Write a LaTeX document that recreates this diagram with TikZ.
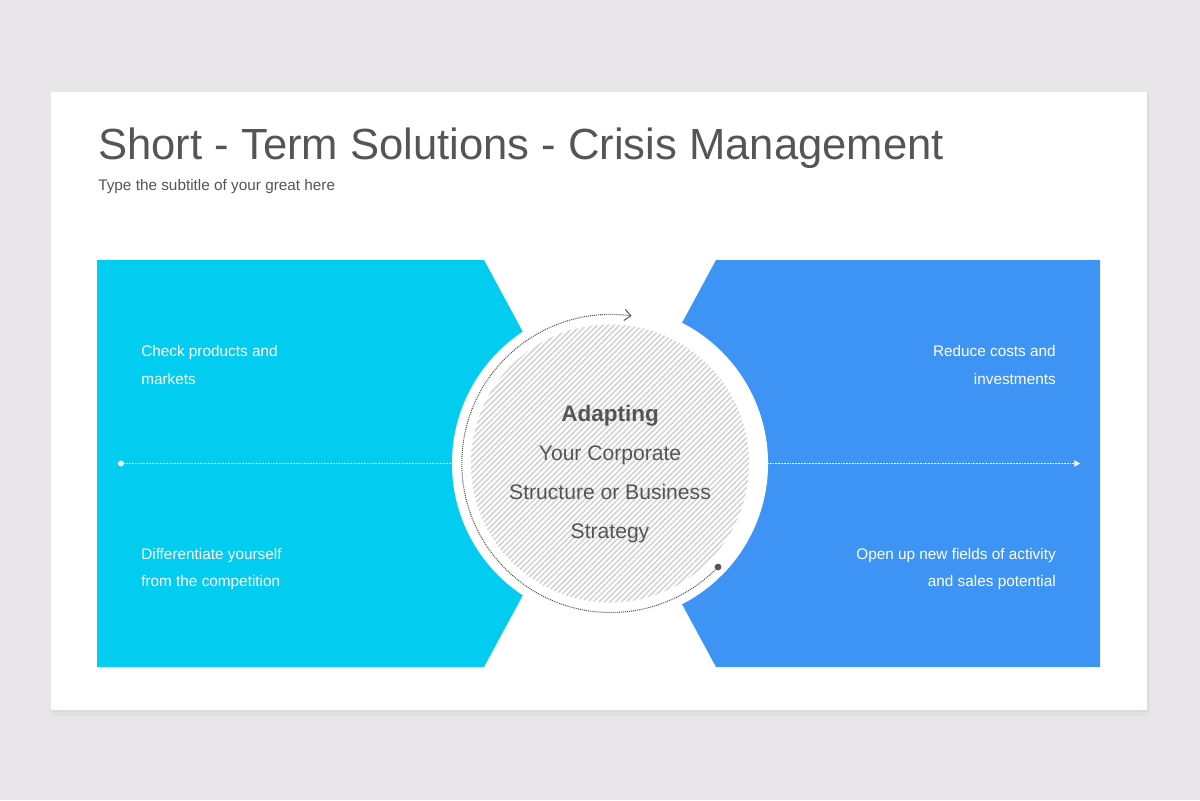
\documentclass[tikz,border=0pt]{standalone}
\usepackage{fontspec}
\setmainfont{Liberation Sans}
\usetikzlibrary{arrows.meta,patterns.meta}
\definecolor{bggray}{HTML}{E8E6E8}
\definecolor{panelcyan}{HTML}{02CCF0}
\definecolor{panelblue}{HTML}{3E94F5}
\definecolor{textgray}{HTML}{555555}
\definecolor{hatchbg}{HTML}{F0F0F0}
\definecolor{hatchline}{HTML}{D2D2D2}

\begin{document}
\begin{tikzpicture}[x=0.025cm,y=-0.025cm,
  paneltext/.style={text=white,font=\fontsize{10.9pt}{19.6pt}\selectfont,inner sep=0pt},
  whitedots/.style={white,dash pattern=on 0.5pt off 0.6pt,line width=0.6pt}]
\useasboundingbox (0,0) rectangle (1200,800);
\fill[bggray] (0,0) rectangle (1200,800);

%Card shadow
\fill[black,opacity=0.025] (52,94) rectangle (1150,716);
\fill[black,opacity=0.025] (51,93) rectangle (1148,712);

%Card
\fill[white] (51,92) rectangle (1147,710);

%Title
\node[anchor=base west,inner sep=0pt,text=textgray,
  font=\fontsize{31pt}{36pt}\selectfont] (title) at (98,160) {Short - Term Solutions - Crisis Management};

%Subtitle
\node[anchor=base west,inner sep=0pt,text=textgray,
  font=\fontsize{10.9pt}{12pt}\selectfont] (subtitle) at (98,191) {Type the subtitle of your great here};

%Left panel
\fill[panelcyan] (97,260) -- (484,260) -- (594,463.5) -- (484,667) -- (97,667) -- cycle;

%Right panel
\fill[panelblue] (716,260) -- (1100,260) -- (1100,667) -- (716,667) -- (606,463.5) -- cycle;

%Ring
\node[circle,fill=white,inner sep=0pt,minimum size=7.9cm] (ring) at (610,463.5) {};

%Core
\node[circle,fill=hatchbg,inner sep=0pt,minimum size=6.95cm,
  pattern={Lines[angle=45,distance=2.8pt,line width=1.1pt]},pattern color=hatchline] (core) at (610,463.5) {};

%Center text
\node[align=center,text=textgray,inner sep=0pt,
  font=\fontsize{15pt}{27.7pt}\selectfont] (adapt) at (610,474)
  {{\fontsize{16pt}{27.7pt}\selectfont\bfseries Adapting}\\Your Corporate\\Structure or Business\\Strategy};

%Cycle arrow
\node[circle,fill=textgray,inner sep=0pt,minimum size=0.17cm] (dot) at (718,567) {};
\draw[textgray,line width=0.75pt,dash pattern=on 0.7pt off 0.7pt,
  -{Straight Barb[length=4.5pt,width=8pt,line width=0.7pt]}]
  (dot.center) arc[start angle=44,end angle=278,radius=149];

%Left line
\node[circle,fill=white,inner sep=0pt,minimum size=0.15cm] (ldot) at (121,463.5) {};
\draw[whitedots] (ldot.center) -- (ring.west);

%Right line
\coordinate (rend) at (1080,463.5);
\draw[whitedots,-{Triangle[length=4pt,width=4.5pt]}] (ring.east) -- (rend);

%Panel labels
\node[paneltext,anchor=west,align=left] (tl) at (141,365) {Check products and\\markets};
\node[paneltext,anchor=west,align=left] (bl) at (141,569) {Differentiate yourself\\from the competition};
\node[paneltext,anchor=east,align=right] (tr) at (1056,365) {Reduce costs and\\investments};
\node[paneltext,anchor=east,align=right] (br) at (1056,569) {Open up new fields of activity\\and sales potential};

\end{tikzpicture}
\end{document}
